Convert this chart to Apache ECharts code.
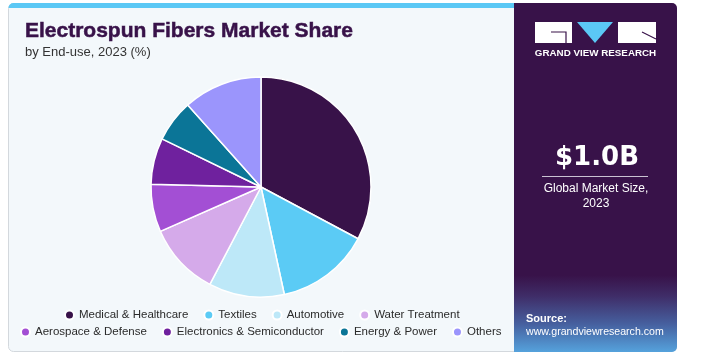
<!DOCTYPE html>
<html>
<head>
<meta charset="utf-8">
<script src="https://cdn.jsdelivr.net/npm/echarts@6/dist/echarts.min.js"></script>
<style>
html,body{margin:0;padding:0;background:#ffffff;}
#chart{width:702px;height:358px;}
</style>
</head>
<body>
<div id="chart"></div>
<script>
const categories = ['Medical & Healthcare','Textiles','Automotive','Water Treatment','Aerospace & Defense','Electronics & Semiconductor','Energy & Power','Others'];
const shares = [32.8, 13.8, 11.1, 10.7, 7.0, 6.8, 6.2, 11.6];
const colors = ['#381249','#5bcbf5','#bde8f8','#d5aaea','#a34fd4','#6f219e','#0b7597','#9b95fc'];
const legendRow1 = categories.slice(0, 4);
const legendRow2 = categories.slice(4);
const titleText = 'Electrospun Fibers Market Share';
const subtitleText = 'by End-use, 2023 (%)';
const marketValue = '$1.0B';
const marketLabel = 'Global Market Size,\n2023';

const chart = echarts.init(document.getElementById('chart'), null, {renderer:'canvas'});
const legendCommon = {
  icon:'circle', itemWidth:9, itemHeight:9, itemGap:15, padding:0,
  textStyle:{fontFamily:'Liberation Sans, Arial, sans-serif', fontSize:11.5, color:'#2b2b2b'},
  selectedMode:false
};
chart.setOption({
  animation:false,
  color: colors,
  graphic:[
    {type:'rect', z:-10, silent:true, shape:{x:8.5,y:3.5,width:668,height:348,r:5}, style:{fill:'#f3f8fb', stroke:'#d3d8dd', lineWidth:1}},
    {type:'rect', z:-9, silent:true, shape:{x:8.5,y:3,width:506,height:5,r:[5,0,0,0]}, style:{fill:'#5bc8f5'}},
    {type:'rect', z:-9, silent:true, shape:{x:514,y:3,width:163,height:349,r:[0,5,5,0]},
      style:{fill:{type:'linear',x:0,y:0,x2:0,y2:1,colorStops:[
        {offset:0,color:'#381249'},{offset:0.78,color:'#381249'},{offset:0.84,color:'#3f2d68'},{offset:0.92,color:'#46609f'},{offset:1,color:'#55a2dc'}]}}},
    // logo
    {type:'rect', z:-8, silent:true, shape:{x:535,y:22,width:37,height:21}, style:{fill:'#ffffff'}},
    {type:'polyline', z:-7, silent:true, shape:{points:[[551,32],[566,32],[566,43]]}, style:{stroke:'#381249', lineWidth:1.2, fill:null}},
    {type:'polygon', z:-8, silent:true, shape:{points:[[577,22],[613,22],[595,43]]}, style:{fill:'#5bc8f5'}},
    {type:'rect', z:-8, silent:true, shape:{x:618,y:22,width:38,height:21}, style:{fill:'#ffffff'}},
    {type:'line', z:-7, silent:true, shape:{x1:642,y1:32,x2:656,y2:39}, style:{stroke:'#381249', lineWidth:1.2}},
    {type:'text', z:-7, silent:true, style:{x:595.5,y:53.5,text:'GRAND VIEW RESEARCH',fill:'#ffffff',font:'bold 9.8px "Liberation Sans", Arial, sans-serif',align:'center',verticalAlign:'middle'}},
    // titles
    {type:'text', silent:true, style:{x:25,y:31,text:titleText,fill:'#381249',font:'900 21px "Liberation Sans", Arial, sans-serif',verticalAlign:'middle',stroke:'#381249',lineWidth:0.5}},
    {type:'text', silent:true, style:{x:25,y:52,text:subtitleText,fill:'#333333',font:'13px "Liberation Sans", Arial, sans-serif',verticalAlign:'middle'}},
    // market value
    {type:'text', silent:true, style:{x:597,y:158,text:marketValue,fill:'#ffffff',font:'bold 26px "DejaVu Sans", sans-serif',align:'center',verticalAlign:'middle'}},
    {type:'line', silent:true, shape:{x1:542,y1:176.5,x2:648,y2:176.5}, style:{stroke:'#c9c2d2', lineWidth:1}},
    {type:'text', silent:true, style:{x:596,y:196,text:marketLabel,fill:'#ffffff',font:'12px "Liberation Sans", Arial, sans-serif',align:'center',verticalAlign:'middle',lineHeight:14.5}},
    {type:'text', silent:true, style:{x:526,y:319,text:'Source:',fill:'#ffffff',font:'bold 11px "Liberation Sans", Arial, sans-serif',verticalAlign:'middle'}},
    {type:'text', silent:true, style:{x:526,y:332.5,text:'www.grandviewresearch.com',fill:'#ffffff',font:'10.6px "Liberation Sans", Arial, sans-serif',verticalAlign:'middle'}}
  ],
  legend:[
    Object.assign({data:legendRow1, left:64, top:309}, legendCommon),
    Object.assign({data:legendRow2, left:20, top:326}, legendCommon)
  ],
  series:[{
    type:'pie',
    center:[261,187],
    radius:[0,110],
    startAngle:90,
    clockwise:true,
    label:{show:false},
    labelLine:{show:false},
    emphasis:{disabled:true},
    itemStyle:{borderColor:'#ffffff', borderWidth:1.5},
    data: categories.map((c,i)=>({name:c, value:shares[i]}))
  }]
});
</script>
</body>
</html>
